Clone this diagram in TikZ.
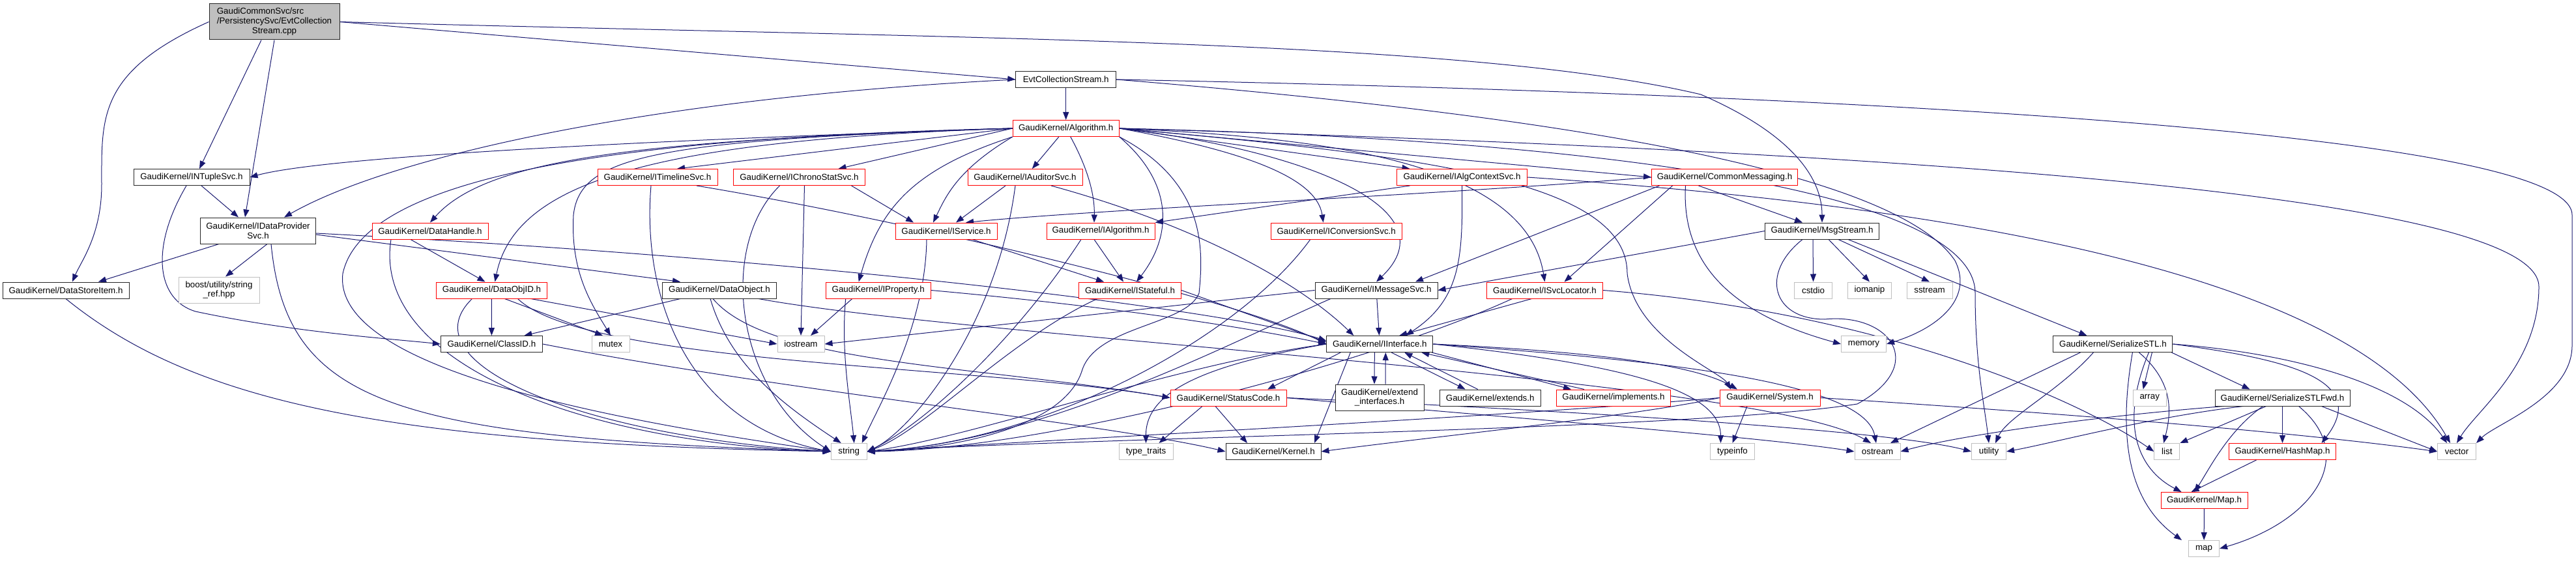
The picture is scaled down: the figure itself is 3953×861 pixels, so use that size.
\documentclass[tikz,border=0pt]{standalone}
\usepackage{fontspec}
\setmainfont{Liberation Sans}
\usetikzlibrary{arrows.meta}
\pgfdeclarelayer{bg}
\pgfsetlayers{bg,main}
\definecolor{edgec}{HTML}{191970}
\definecolor{redc}{HTML}{FF0000}
\definecolor{grayc}{HTML}{BFBFBF}
\tikzset{
  box/.style={rectangle, line width=1pt, minimum height=25pt, inner sep=0pt,
    font=\fontsize{13.33}{14.7}\selectfont, align=center, fill=white},
  blk/.style={box, draw=black!85},
  redbox/.style={box, draw=redc},
  gry/.style={box, draw=grayc},
  rootbox/.style={box, draw=black!85, fill=grayc},
  e/.style={draw=edgec, line width=1pt, -{Triangle[length=12pt,width=9pt]}},
}
\begin{document}
\begin{tikzpicture}[x=1pt,y=-1pt]
\useasboundingbox (0,0) rectangle (3953,861);
% ---------- nodes ----------
\node[rootbox, minimum width=200pt, minimum height=55pt] (root) at (421,33.5)
  {\begin{tabular}{@{}l@{}}GaudiCommonSvc/src\\/PersistencySvc/EvtCollection\\\multicolumn{1}{@{}c@{}}{Stream.cpp}\end{tabular}};
\node[blk, minimum width=154pt] (evth) at (1635.7,122) {EvtCollectionStream.h};
\node[redbox, minimum width=163pt] (alg) at (1635.7,197) {GaudiKernel/Algorithm.h};
% row 3
\node[blk, minimum width=178pt] (intuple) at (294,272) {GaudiKernel/INTupleSvc.h};
\node[redbox, minimum width=184pt] (itimeline) at (1009,272) {GaudiKernel/ITimelineSvc.h};
\node[redbox, minimum width=202pt] (ichrono) at (1226.5,272) {GaudiKernel/IChronoStatSvc.h};
\node[redbox, minimum width=176pt] (iauditor) at (1573,272) {GaudiKernel/IAuditorSvc.h};
\node[redbox, minimum width=200pt] (ialgctx) at (2243.5,272) {GaudiKernel/IAlgContextSvc.h};
\node[redbox, minimum width=224pt] (commonmsg) at (2646.5,272) {GaudiKernel/CommonMessaging.h};
% row 4
\node[blk, minimum width=177pt, minimum height=40pt] (idp) at (396,354) {GaudiKernel/IDataProvider\\Svc.h};
\node[redbox, minimum width=178pt] (datahandle) at (660,354.5) {GaudiKernel/DataHandle.h};
\node[redbox, minimum width=156pt] (iservice) at (1452,354.5) {GaudiKernel/IService.h};
\node[redbox, minimum width=166pt] (ialgorithm) at (1689,354.5) {GaudiKernel/IAlgorithm.h};
\node[redbox, minimum width=201pt] (iconv) at (2050.7,354.5) {GaudiKernel/IConversionSvc.h};
\node[blk, minimum width=175pt] (msgs) at (2796,354.5) {GaudiKernel/MsgStream.h};
% row 5
\node[blk, minimum width=194pt] (dsi) at (101,445.5) {GaudiKernel/DataStoreItem.h};
\node[gry, minimum width=124pt, minimum height=40pt] (boost) at (336,445) {boost/utility/string\\\_ref.hpp};
\node[redbox, minimum width=170pt] (dataobjid) at (754.5,445.5) {GaudiKernel/DataObjID.h};
\node[blk, minimum width=175pt] (dataobject) at (1104,445.5) {GaudiKernel/DataObject.h};
\node[redbox, minimum width=161pt] (iproperty) at (1347.7,445.5) {GaudiKernel/IProperty.h};
\node[redbox, minimum width=157pt] (istateful) at (1734,445.5) {GaudiKernel/IStateful.h};
\node[blk, minimum width=188pt] (imsg) at (2112,445.5) {GaudiKernel/IMessageSvc.h};
\node[redbox, minimum width=178pt] (isvcloc) at (2370.5,445.5) {GaudiKernel/ISvcLocator.h};
\node[gry, minimum width=58pt] (cstdio) at (2782.5,445.5) {cstdio};
\node[gry, minimum width=67pt] (iomanip) at (2869,445.5) {iomanip};
\node[gry, minimum width=70pt] (sstream) at (2961,445.5) {sstream};
% row 6
\node[blk, minimum width=156pt] (classid) at (754.4,528) {GaudiKernel/ClassID.h};
\node[gry, minimum width=58pt] (mutex) at (937,528) {mutex};
\node[gry, minimum width=72pt] (iostream) at (1229,528) {iostream};
\node[blk, minimum width=163pt] (iinterface) at (2117.3,528) {GaudiKernel/IInterface.h};
\node[gry, minimum width=69pt] (memory) at (2860,528) {memory};
\node[blk, minimum width=183pt] (sstl) at (3242.4,528) {GaudiKernel/SerializeSTL.h};
% row 7
\node[redbox, minimum width=178pt] (statuscode) at (1885,610.5) {GaudiKernel/StatusCode.h};
\node[blk, minimum width=136pt, minimum height=40pt] (extif) at (2117,610) {GaudiKernel/extend\\\_interfaces.h};
\node[blk, minimum width=155pt] (extends) at (2286.7,610.5) {GaudiKernel/extends.h};
\node[redbox, minimum width=175pt] (implements) at (2476,610.5) {GaudiKernel/implements.h};
\node[redbox, minimum width=154pt] (system) at (2716,610.5) {GaudiKernel/System.h};
\node[gry, minimum width=51pt] (array) at (3298.7,610.5) {array};
\node[blk, minimum width=207pt] (sstlfwd) at (3502.5,610.5) {GaudiKernel/SerializeSTLFwd.h};
% row 8
\node[gry, minimum width=55pt] (string) at (1302.7,693) {string};
\node[gry, minimum width=83pt] (typetraits) at (1758.5,693) {type\_traits};
\node[blk, minimum width=146pt] (kernel) at (1954,693) {GaudiKernel/Kernel.h};
\node[gry, minimum width=68pt] (typeinfo) at (2658.5,693) {typeinfo};
\node[gry, minimum width=70pt] (ostream) at (2881,693) {ostream};
\node[gry, minimum width=53pt] (utility) at (3052,693) {utility};
\node[gry, minimum width=39pt] (list) at (3325.3,693) {list};
\node[redbox, minimum width=164pt] (hashmap) at (3502.5,693) {GaudiKernel/HashMap.h};
\node[gry, minimum width=59pt] (vector) at (3770,693) {vector};
% rows 9-10
\node[redbox, minimum width=133pt] (maph) at (3382.5,768) {GaudiKernel/Map.h};
\node[gry, minimum width=47pt] (map) at (3382,842) {map};
% ---------- edges ----------
\begin{pgfonlayer}{bg}
% root
\draw[e] (root.east) -- (evth.west);
\draw[e] ([xshift=-20pt]root.south) -- ([xshift=12pt]intuple.north);
\draw[e] (root.south) -- ([xshift=-20pt]idp.north);
\draw[e] (root.west) .. controls (150,110) and (156,180) .. (156,283) .. controls (156,360) and (125,400) .. ([xshift=10pt]dsi.north);
\draw[e] (root.east) .. controls (1500,60) and (2250,60) .. (2610,145) .. controls (2760,210) and (2796,280) .. (msgs.north);
% EvtCollectionStream.h
\draw[e] (evth) -- (alg);
\draw[e] (evth.west) .. controls (1000,150) and (600,240) .. ([xshift=40pt]idp.north);
\draw[e] (evth.east) .. controls (2300,170) and (2900,250) .. (3000,400) .. controls (3030,460) and (2970,505) .. (memory.east);
\draw[e] (evth.east) .. controls (2600,140) and (3947,190) .. (3947,330) -- (3947,530) .. controls (3947,610) and (3830,650) .. (vector.north east);
% Algorithm.h
\draw[e] (alg.west) .. controls (1000,215) and (500,240) .. (intuple.east);
\draw[e] (alg.west) .. controls (1000,215) and (750,240) .. (datahandle.north);
\draw[e] (alg.west) .. controls (1000,215) and (790,280) .. ([xshift=5pt]dataobjid.north);
\draw[e] (alg.west) .. controls (1000,215) and (890,240) .. (880,330) .. controls (875,420) and (910,470) .. (mutex.north);
\draw[e] (alg.west) .. controls (1000,210) and (560,260) .. (526,420) .. controls (510,560) and (900,640) .. (string.west);
\draw[e] (alg.west) -- ([xshift=30pt]itimeline.north);
\draw[e] (alg.west) -- ([xshift=60pt]ichrono.north);
\draw[e] (alg) -- (iauditor);
\draw[e] (alg.south west) .. controls (1470,260) and (1452,300) .. ([xshift=-20pt]iservice.north);
\draw[e] (alg.south west) .. controls (1400,260) and (1350,320) .. ([xshift=-30pt]iproperty.north);
\draw[e] (alg) .. controls (1670,260) and (1680,300) .. ([xshift=-10pt]ialgorithm.north);
\draw[e] (alg.south east) .. controls (1800,280) and (1800,360) .. ([xshift=10pt]istateful.north);
\draw[e] (alg.south east) .. controls (1850,280) and (1847,380) .. (1840,450) .. controls (1820,500) and (1680,500) .. (1660,570) .. controls (1630,660) and (1450,690) .. (string.east);
\draw[e] (alg.east) .. controls (1900,230) and (2020,270) .. ([xshift=-20pt]iconv.north);
\draw[e] (alg.east) -- ([xshift=-80pt]ialgctx.north);
\draw[e] (alg.east) -- (commonmsg.west);
\draw[e] (alg.east) .. controls (2000,230) and (2230,320) .. ([xshift=0pt]imsg.north);
\draw[e] (alg.east) .. controls (2000,210) and (2340,240) .. ([xshift=0pt]isvcloc.north);
\draw[e] (alg.east) .. controls (2200,240) and (2497,280) .. (2497,420) .. controls (2510,520) and (2640,570) .. ([xshift=-60pt]system.north);
\draw[e] (alg.east) .. controls (2500,215) and (3031,300) .. (3031,450) .. controls (3031,560) and (3045,620) .. (utility.north);
\draw[e] (alg.east) .. controls (2800,230) and (3896,290) .. (3896,440) .. controls (3896,560) and (3800,630) .. (vector.north);
% INTupleSvc.h
\draw[e] ([xshift=15pt]intuple.south) -- ([xshift=-30pt]idp.north);
\draw[e] ([xshift=-8pt]intuple.south) .. controls (230,380) and (240,460) .. (300,478) .. controls (450,510) and (600,520) .. (classid.west);
% IDataProviderSvc.h
\draw[e] ([xshift=-60pt]idp.south) -- ([xshift=50pt]dsi.north);
\draw[e] ([xshift=14pt]idp.south) -- ([xshift=10pt]boost.north);
\draw[e] ([xshift=20pt]idp.south) .. controls (440,620) and (600,670) .. (string.west);
\draw[e] ([yshift=-6pt]idp.east) -- ([xshift=-60pt]dataobject.north);
\draw[e] ([yshift=-4pt]idp.east) .. controls (1300,400) and (1900,480) .. ([yshift=5pt]iinterface.west);
% DataStoreItem.h
\draw[e] (dsi.south) .. controls (300,620) and (600,680) .. (string.west);
% DataHandle.h
\draw[e] ([xshift=-30pt]datahandle.south) -- ([xshift=-10pt]dataobjid.north);
\draw[e] ([xshift=-60pt]datahandle.south) .. controls (570,560) and (900,680) .. (string.west);
% DataObjID.h
\draw[e] (dataobjid) -- (classid);
\draw[e] ([xshift=20pt]dataobjid.south) -- ([xshift=-12pt]mutex.north);
\draw[e] ([xshift=60pt]dataobjid.south) -- (iostream.west);
\draw[e] ([xshift=-30pt]dataobjid.south) .. controls (620,560) and (900,670) .. (string.west);
\draw[e] ([xshift=40pt]dataobjid.south) .. controls (900,560) and (1500,560) .. (statuscode.west);
% ClassID.h
\draw[e] (classid.east) .. controls (1200,600) and (1700,650) .. (kernel.west);
% DataObject.h
\draw[e] ([xshift=-60pt]dataobject.south) -- ([xshift=50pt]classid.north);
\draw[e] ([xshift=-14pt]dataobject.south) .. controls (1120,560) and (1200,620) .. ([xshift=-12pt]string.north);
\draw[e] ([xshift=-10pt]dataobject.south) .. controls (1180,560) and (1500,560) .. (statuscode.west);
\draw[e] ([xshift=60pt]dataobject.south) .. controls (1500,520) and (2700,580) .. ([xshift=-10pt]ostream.north);
% IProperty.h
\draw[e] (iproperty.east) .. controls (1700,470) and (1900,500) .. (iinterface.west);
\draw[e] ([xshift=-40pt]iproperty.south) -- ([xshift=15pt]iostream.north);
\draw[e] ([xshift=-50pt]iproperty.south) .. controls (1290,540) and (1305,620) .. ([xshift=8pt]string.north);
% ITimelineSvc.h
\draw[e] ([xshift=-10pt]itimeline.south) .. controls (985,450) and (1050,650) .. (string.west);
\draw[e] ([xshift=60pt]itimeline.south) .. controls (1400,340) and (1900,460) .. (iinterface.west);
% IChronoStatSvc.h
\draw[e] ([xshift=80pt]ichrono.south) -- ([xshift=-50pt]iservice.north);
\draw[e] ([xshift=8pt]ichrono.south) -- (iostream.north);
\draw[e] ([xshift=-30pt]ichrono.south) .. controls (1100,380) and (1130,600) .. (string.west);
% IAuditorSvc.h
\draw[e] ([xshift=-30pt]iauditor.south) -- ([xshift=15pt]iservice.north);
\draw[e] ([xshift=-15pt]iauditor.south) .. controls (1530,500) and (1400,660) .. (string.east);
\draw[e] ([xshift=40pt]iauditor.south) .. controls (1850,350) and (2000,440) .. ([xshift=-40pt]iinterface.north);
% IService.h
\draw[e] ([xshift=40pt]iservice.south) -- ([xshift=-40pt]istateful.north);
\draw[e] ([xshift=-30pt]iservice.south) .. controls (1420,500) and (1350,620) .. ([xshift=20pt]string.north);
% IAlgorithm.h
\draw[e] ([xshift=-10pt]ialgorithm.south) -- ([xshift=-10pt]istateful.north);
\draw[e] ([xshift=-30pt]ialgorithm.south) .. controls (1560,520) and (1420,650) .. (string.east);
% IStateful.h
\draw[e] (istateful.east) -- ([yshift=3pt]iinterface.west);
\draw[e] ([xshift=-50pt]istateful.south) .. controls (1550,520) and (1420,660) .. (string.east);
% IConversionSvc.h
\draw[e] ([xshift=-40pt]iconv.south) .. controls (1900,520) and (1600,680) .. (string.east);
% IAlgContextSvc.h
\draw[e] ([xshift=-80pt]ialgctx.south) -- (ialgorithm.north east);
\draw[e] ([xshift=0pt]ialgctx.south) .. controls (2245,400) and (2240,460) .. ([xshift=40pt]iinterface.north);
\draw[e] (ialgctx.east) .. controls (2900,310) and (3600,400) .. ([xshift=-10pt]vector.north);
% CommonMessaging.h
\draw[e] (commonmsg.west) .. controls (2200,300) and (1700,320) .. ([xshift=30pt]iservice.north);
\draw[e] ([xshift=-40pt]commonmsg.south) -- ([xshift=-30pt]msgs.north);
\draw[e] ([xshift=-80pt]commonmsg.south) -- ([xshift=30pt]isvcloc.north);
\draw[e] ([xshift=-100pt]commonmsg.south) -- ([xshift=60pt]imsg.north);
\draw[e] ([xshift=-60pt]commonmsg.south) .. controls (2580,400) and (2650,480) .. (memory.west);
% IMessageSvc.h
\draw[e] (imsg) -- (iinterface);
\draw[e] ([xshift=-70pt]imsg.south) .. controls (1900,520) and (1600,680) .. (string.east);
\draw[e] (imsg.west) -- (iostream.east);
% ISvcLocator.h
\draw[e] ([xshift=-20pt]isvcloc.south) -- ([xshift=30pt]iinterface.north);
\draw[e] ([xshift=-50pt]isvcloc.south) .. controls (2100,560) and (1600,690) .. (string.east);
\draw[e] (isvcloc.east) .. controls (2900,480) and (3200,620) .. (list.west);
% MsgStream.h
\draw[e] (msgs.west) -- (imsg.east);
\draw[e] ([xshift=-14pt]msgs.south) -- (cstdio.north);
\draw[e] ([xshift=10pt]msgs.south) -- (iomanip.north);
\draw[e] ([xshift=25pt]msgs.south) -- (sstream.north);
\draw[e] ([xshift=-30pt]msgs.south) .. controls (2700,420) and (2720,490) .. (2800,490) .. controls (2900,480) and (2960,560) .. (2850,620) .. controls (2600,660) and (1700,670) .. (string.east);
\draw[e] ([xshift=40pt]msgs.south) -- ([xshift=-40pt]sstl.north);
% IInterface.h
\draw[e] ([xshift=-8pt]iinterface.south) -- ([xshift=-8pt]extif.north);
\draw[e] ([xshift=9pt]extif.north) -- ([xshift=9pt]iinterface.south);
\draw[e] ([xshift=18pt]iinterface.south) -- ([xshift=-38pt]extends.north);
\draw[e] ([xshift=-19pt]extends.north) -- ([xshift=38pt]iinterface.south);
\draw[e] ([xshift=80pt]iinterface.south) -- ([xshift=-65pt]implements.north);
\draw[e] ([xshift=-45pt]implements.north) -- ([xshift=64pt]iinterface.south);
\draw[e] ([xshift=-45pt]iinterface.south) -- ([xshift=63pt]kernel.north);
\draw[e] ([xshift=-60pt]iinterface.south) -- ([xshift=60pt]statuscode.north);
\draw[e] (iinterface.east) .. controls (2450,540) and (2600,560) .. ([xshift=-50pt]system.north);
\draw[e] (iinterface.east) .. controls (2500,560) and (2640,600) .. ([xshift=-18pt]typeinfo.north);
\draw[e] (iinterface.east) .. controls (2500,550) and (2860,580) .. ([xshift=-2pt]ostream.north);
\draw[e] (iinterface.west) .. controls (1850,560) and (1758,600) .. (typetraits.north);
\draw[e] (iinterface.west) .. controls (1800,560) and (1500,670) .. (string.east);
% StatusCode.h
\draw[e] ([xshift=-40pt]statuscode.south) -- ([xshift=20pt]typetraits.north);
\draw[e] ([xshift=-20pt]statuscode.south) -- ([xshift=-40pt]kernel.north);
\draw[e] (statuscode.east) .. controls (2300,640) and (2700,670) .. (ostream.west);
\draw[e] (statuscode.east) .. controls (2400,630) and (2900,660) .. (utility.west);
% System.h
\draw[e] ([xshift=-35pt]system.south) -- ([xshift=0pt]typeinfo.north);
\draw[e] (system.west) .. controls (2300,640) and (1700,670) .. (string.east);
\draw[e] (system.west) .. controls (2500,640) and (2200,670) .. (kernel.east);
\draw[e] (system.east) .. controls (3100,630) and (3500,660) .. (vector.west);
% SerializeSTL.h
\draw[e] ([xshift=-50pt]sstl.south) -- ([xshift=20pt]ostream.north);
\draw[e] ([xshift=-30pt]sstl.south) .. controls (3160,600) and (3080,640) .. ([xshift=10pt]utility.north);
\draw[e] ([xshift=40pt]sstl.south) .. controls (3340,590) and (3330,640) .. ([xshift=-5pt]list.north);
\draw[e] ([xshift=60pt]sstl.south) -- ([xshift=-10pt]array.north);
\draw[e] ([xshift=90pt]sstl.south) -- ([xshift=-50pt]sstlfwd.north);
\draw[e] ([xshift=30pt]sstl.south) .. controls (3245,700) and (3280,780) .. ([xshift=-10pt]map.north west);
\draw[e] ([xshift=55pt]sstl.south) .. controls (3252,650) and (3280,720) .. ([xshift=-35pt]maph.north);
\draw[e] (sstl.east) .. controls (3500,550) and (3640,580) .. ([xshift=60pt]hashmap.north);
\draw[e] (sstl.east) .. controls (3550,545) and (3700,600) .. ([xshift=-15pt]vector.north);
% SerializeSTLFwd.h
\draw[e] ([xshift=-25pt]sstlfwd.south) -- (list.north east);
\draw[e] (sstlfwd.south) -- (hashmap.north);
\draw[e] ([xshift=-30pt]sstlfwd.south) .. controls (3420,660) and (3390,720) .. ([xshift=-15pt]maph.north);
\draw[e] ([xshift=25pt]sstlfwd.south) .. controls (3620,700) and (3550,800) .. (map.east);
\draw[e] ([xshift=60pt]sstlfwd.south) -- (vector.west);
\draw[e] ([xshift=-90pt]sstlfwd.south) .. controls (3200,640) and (3000,670) .. (ostream.east);
\draw[e] ([xshift=-60pt]sstlfwd.south) .. controls (3300,640) and (3150,680) .. (utility.east);
% HashMap.h, Map.h
\draw[e] ([xshift=-40pt]hashmap.south) -- ([xshift=-20pt]maph.north);
\draw[e] (maph) -- (map);
\end{pgfonlayer}
\end{tikzpicture}
\end{document}
